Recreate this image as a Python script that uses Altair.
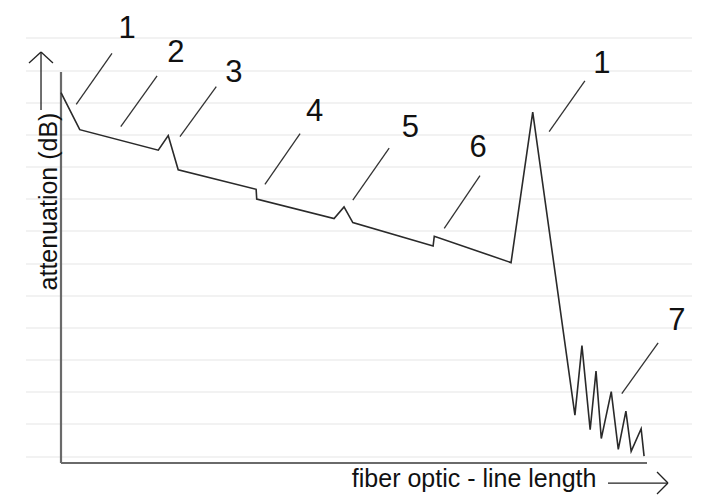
import altair as alt
import pandas as pd

# OTDR trace: distance (relative units, 0-100) vs attenuation (dB)
trace_x = [0.0, 3.2, 16.6, 18.3, 20.0, 33.3, 33.4, 46.6, 48.3, 49.8, 63.5, 63.7,
           76.8, 80.5, 87.7, 88.9, 90.3, 91.3, 92.2, 93.9, 95.1, 96.4, 97.3, 99.0, 99.5]
trace_y = [37.9, 34.1, 32.0, 33.5, 30.0, 28.0, 27.0, 25.0, 26.2, 24.6, 22.2, 23.2,
           20.5, 35.9, 4.9, 12.0, 3.4, 9.4, 2.5, 7.3, 1.4, 5.3, 1.2, 3.5, 0.7]

# callout labels and leader lines
label_text = ["1", "2", "3", "4", "5", "6", "1", "7"]
label_x = [11.3, 19.6, 29.5, 43.3, 59.6, 71.2, 92.3, 105.1]
label_y = [43.5, 41.0, 39.0, 35.0, 33.4, 31.3, 39.9, 13.6]
leader_x1 = [8.7, 16.4, 26.5, 40.8, 56.0, 71.5, 89.4, 101.9]
leader_y1 = [41.9, 39.6, 38.5, 33.7, 32.2, 29.4, 39.1, 12.3]
leader_x2 = [2.6, 10.2, 20.3, 34.8, 49.8, 65.4, 83.3, 95.7]
leader_y2 = [36.7, 34.4, 33.4, 28.5, 26.9, 24.0, 33.9, 7.1]

# background ruled lines
ruled_y = [43.48, 40.10, 36.83, 33.55, 30.28, 27.01, 23.73, 20.36, 17.08, 13.81,
           10.54, 7.26, 3.99, 0.61]

# axes and arrows (segments)
axis_x1 = [0.0, 0.0]
axis_y1 = [0.0, 0.0]
axis_x2 = [0.0, 100.0]
axis_y2 = [40.0, 0.0]

arrow_x1 = [-3.41, -5.46, -1.37, 93.34, 101.71, 101.71]
arrow_y1 = [36.11, 40.92, 40.92, -2.05, -0.92, -3.17]
arrow_x2 = [-3.41, -3.41, -3.41, 103.58, 103.58, 103.58]
arrow_y2 = [42.05, 42.05, 42.05, -2.05, -2.05, -2.05]

title_text = ["attenuation (dB)", "fiber optic - line length"]
title_x = [-0.68, 70.5]
title_y = [26.75, -2.46]
title_angle = [270, 0]

XS = alt.Scale(domain=[-9.044, 108.874], nice=False, zero=False)
YS = alt.Scale(domain=[-3.274, 46.547], nice=False, zero=False)

trace = pd.DataFrame({"x": trace_x, "y": trace_y, "i": list(range(len(trace_x)))})
labels = pd.DataFrame({"t": label_text, "x": label_x, "y": label_y})
leaders = pd.DataFrame({"x": leader_x1, "y": leader_y1, "x2": leader_x2, "y2": leader_y2})
ruled = pd.DataFrame({"y": ruled_y, "x": [-5.97] * len(ruled_y), "x2": [107.68] * len(ruled_y)})
axes = pd.DataFrame({"x": axis_x1, "y": axis_y1, "x2": axis_x2, "y2": axis_y2})
arrows = pd.DataFrame({"x": arrow_x1, "y": arrow_y1, "x2": arrow_x2, "y2": arrow_y2})
titles = pd.DataFrame({"t": title_text, "x": title_x, "y": title_y, "a": title_angle})

ruled_layer = alt.Chart(ruled).mark_rule(color="#eeeeee", strokeWidth=1.5).encode(
    x=alt.X("x:Q", scale=XS, axis=None), x2="x2:Q",
    y=alt.Y("y:Q", scale=YS, axis=None))

axes_layer = alt.Chart(axes).mark_rule(color="#6a6a6a", strokeWidth=2.2).encode(
    x=alt.X("x:Q", scale=XS, axis=None), x2="x2:Q",
    y=alt.Y("y:Q", scale=YS, axis=None), y2="y2:Q")

arrow_layer = alt.Chart(arrows).mark_rule(color="#222222", strokeWidth=1.3).encode(
    x=alt.X("x:Q", scale=XS, axis=None), x2="x2:Q",
    y=alt.Y("y:Q", scale=YS, axis=None), y2="y2:Q")

leader_layer = alt.Chart(leaders).mark_rule(color="#333333", strokeWidth=1.3).encode(
    x=alt.X("x:Q", scale=XS, axis=None), x2="x2:Q",
    y=alt.Y("y:Q", scale=YS, axis=None), y2="y2:Q")

trace_layer = alt.Chart(trace).mark_line(color="#2a2a2a", strokeWidth=1.6, strokeJoin="miter").encode(
    x=alt.X("x:Q", scale=XS, axis=None),
    y=alt.Y("y:Q", scale=YS, axis=None),
    order="i:Q")

label_layer = alt.Chart(labels).mark_text(
    font="Liberation Sans", fontSize=31, color="#111111", align="center", baseline="alphabetic"
).encode(
    x=alt.X("x:Q", scale=XS, axis=None),
    y=alt.Y("y:Q", scale=YS, axis=None),
    text="t:N")

title_layer = alt.Chart(titles).mark_text(
    font="Liberation Sans", fontSize=25, color="#111111", align="center", baseline="alphabetic"
).encode(
    x=alt.X("x:Q", scale=XS, axis=None),
    y=alt.Y("y:Q", scale=YS, axis=None),
    angle=alt.Angle("a:Q", scale=None),
    text="t:N")

chart = alt.layer(
    ruled_layer, axes_layer, arrow_layer, leader_layer, trace_layer, label_layer, title_layer
).properties(
    width=691, height=487, padding=0, autosize=alt.AutoSizeParams(type="none"),
    background="white"
).configure_view(stroke=None)

chart.save("out.html", embed_options={"renderer": "svg", "actions": False})
